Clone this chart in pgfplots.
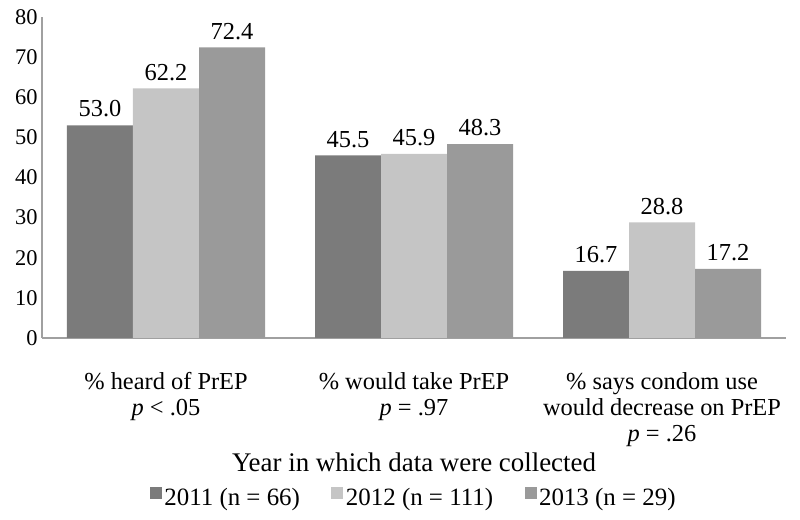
\documentclass[border=0pt]{standalone}
\usepackage{pgfplots}
\pgfplotsset{compat=1.18}
\usepackage{fontspec}
\setmainfont{Liberation Serif}
\definecolor{c1}{HTML}{7B7B7B}
\definecolor{c2}{HTML}{C5C5C5}
\definecolor{c3}{HTML}{9A9A9A}
\definecolor{axg}{HTML}{A0A0A0}
\begin{document}
\begin{tikzpicture}
\begin{axis}[
  scale only axis, width=744bp, height=321bp,
  ybar=0pt, bar width=66bp,
  xmin=-0.5, xmax=2.5, ymin=0, ymax=80,
  ytick={0,10,...,80},
  xtick={0,1,2},
  xticklabels={{\% heard of PrEP\\\textit{p} < .05},{\% would take PrEP\\\textit{p} = .97},{\% says condom use\\would decrease on PrEP\\\textit{p} = .26}},
  axis x line*=bottom, axis y line*=left,
  axis line style={axg, line width=1.5bp},
  major tick length=0pt,
  /pgf/number format/assume math mode=true,
  yticklabel style={font=\fontsize{22.5}{24}\selectfont, xshift=-1bp},
  xticklabel style={font=\fontsize{24.5}{26}\selectfont, align=center, anchor=north, yshift=-31bp},
  xlabel={Year in which data were collected},
  xlabel style={at={(axis description cs:0.5,0)}, anchor=center, yshift=-124bp, font=\fontsize{27}{29}\selectfont},
  nodes near coords,
  nodes near coords style={font=\fontsize{24.5}{26}\selectfont, yshift=4.5bp, /pgf/number format/fixed, /pgf/number format/fixed zerofill, /pgf/number format/precision=1, /pgf/number format/assume math mode=true},
  legend style={at={(axis description cs:0.5,0)}, anchor=center, yshift=-160bp, draw=none, fill=none,
    font=\fontsize{25}{27}\selectfont, nodes={inner sep=2.5bp},
    /tikz/every even column/.append style={column sep=29bp}},
  legend columns=-1,
  legend image code/.code={\fill[#1, draw=none] (0bp,-1bp) rectangle (12bp,11bp);},
]
\addplot[fill=c1, draw=none] coordinates {(0,53.0) (1,45.5) (2,16.7)};
\addplot[fill=c2, draw=none] coordinates {(0,62.2) (1,45.9) (2,28.8)};
\addplot[fill=c3, draw=none] coordinates {(0,72.4) (1,48.3) (2,17.2)};
\legend{2011 (n = 66), 2012 (n = 111), 2013 (n = 29)}
\end{axis}
\pgfresetboundingbox
\path ([shift={(-42bp,-182bp)}]current axis.south west) rectangle ([shift={(14bp,17bp)}]current axis.north east);
\end{tikzpicture}
\end{document}
